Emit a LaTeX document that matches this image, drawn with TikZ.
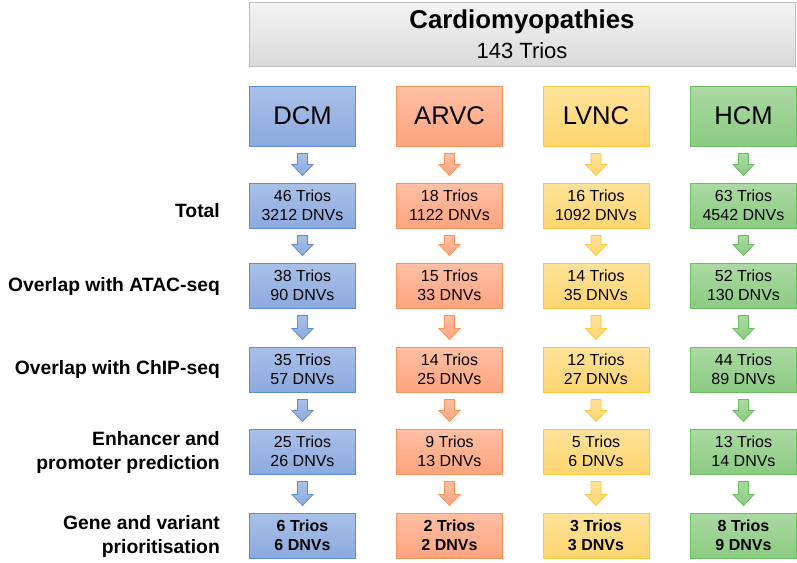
\documentclass[tikz,border=0pt]{standalone}
\usepackage{fontspec}
\setmainfont{Liberation Sans}
\usetikzlibrary{calc}

\definecolor{alltop}{HTML}{F4F4F4}
\definecolor{allbot}{HTML}{DADADA}
\definecolor{allline}{HTML}{BEBEBE}
\definecolor{dcmtop}{HTML}{A9C0E9}
\definecolor{dcmbot}{HTML}{8CAADE}
\definecolor{dcmline}{HTML}{5C8DD8}
\definecolor{arvctop}{HTML}{FFC0A4}
\definecolor{arvcbot}{HTML}{FFA37F}
\definecolor{arvcline}{HTML}{F8955A}
\definecolor{lvnctop}{HTML}{FFE29A}
\definecolor{lvncbot}{HTML}{FFD56F}
\definecolor{lvncline}{HTML}{FFC73A}
\definecolor{hcmtop}{HTML}{ABDAA3}
\definecolor{hcmbot}{HTML}{8BCB81}
\definecolor{hcmline}{HTML}{6CBE62}

\tikzset{
  box/.style={draw, line width=1pt, minimum width=106pt, minimum height=45pt,
    inner sep=0pt, align=center, font=\fontsize{16}{19.5}\selectfont},
  bold/.style={font=\fontsize{16}{19.5}\selectfont\bfseries},
  head/.style={minimum height=60pt, font=\fontsize{25.6}{30}\selectfont},
  dcm box/.style={box, draw=dcmline, top color=dcmtop, bottom color=dcmbot},
  arvc box/.style={box, draw=arvcline, top color=arvctop, bottom color=arvcbot},
  lvnc box/.style={box, draw=lvncline, top color=lvnctop, bottom color=lvncbot},
  hcm box/.style={box, draw=hcmline, top color=hcmtop, bottom color=hcmbot},
  dcm arrow/.style={draw=dcmline, line width=0.8pt, top color=dcmtop, bottom color=dcmbot},
  arvc arrow/.style={draw=arvcline, line width=0.8pt, top color=arvctop, bottom color=arvcbot},
  lvnc arrow/.style={draw=lvncline, line width=0.8pt, top color=lvnctop, bottom color=lvncbot},
  hcm arrow/.style={draw=hcmline, line width=0.8pt, top color=hcmtop, bottom color=hcmbot},
  steplabel/.style={anchor=east, align=right, inner sep=0pt,
    font=\fontsize{19.3}{24}\selectfont\bfseries},
}

% block arrow between two boxes of one column
\newcommand{\flowarrow}[3]{%
  \path[#3] let \p1=(#1.south), \p2=(#2.north) in
    (\x1-5pt,\y1-7pt) -- (\x1+5pt,\y1-7pt) -- (\x1+5pt,\y2+18pt) -- (\x1+10.5pt,\y2+18pt)
    -- (\x1,\y2+7pt) -- (\x1-10.5pt,\y2+18pt) -- (\x1-5pt,\y2+18pt) -- cycle;}

\begin{document}
\begin{tikzpicture}[x=1pt,y=-1pt]
\useasboundingbox (0,0) rectangle (797,562);

\node[draw=allline, line width=1pt, top color=alltop, bottom color=allbot,
  minimum width=546pt, minimum height=64pt, inner sep=0pt, align=center,
  font=\fontsize{22}{30}\selectfont] (all) at (522,34)
  {{\fontsize{25.8}{30}\selectfont\bfseries Cardiomyopathies}\\143 Trios};

% row labels
\node[steplabel] (total) at (220,211) {Total};
\node[steplabel] (atac) at (220,287) {Overlap with ATAC-seq};
\node[steplabel] (chip) at (220,370) {Overlap with ChIP-seq};
\node[steplabel] (enh) at (220,453) {Enhancer and\\promoter prediction};
\node[steplabel] (prio) at (220,537) {Gene and variant\\prioritisation};

% DCM
\node[dcm box, head] (dcm) at (302.5,116) {DCM};
\node[dcm box] (dcm1) at (302.5,205.5) {46 Trios\\3212 DNVs};
\node[dcm box] (dcm2) at (302.5,285.5) {38 Trios\\90 DNVs};
\node[dcm box] (dcm3) at (302.5,369.5) {35 Trios\\57 DNVs};
\node[dcm box] (dcm4) at (302.5,451.5) {25 Trios\\26 DNVs};
\node[dcm box, bold] (dcm5) at (302.5,535.5) {6 Trios\\6 DNVs};

% ARVC
\node[arvc box, head] (arvc) at (449.5,116) {ARVC};
\node[arvc box] (arvc1) at (449.5,205.5) {18 Trios\\1122 DNVs};
\node[arvc box] (arvc2) at (449.5,285.5) {15 Trios\\33 DNVs};
\node[arvc box] (arvc3) at (449.5,369.5) {14 Trios\\25 DNVs};
\node[arvc box] (arvc4) at (449.5,451.5) {9 Trios\\13 DNVs};
\node[arvc box, bold] (arvc5) at (449.5,535.5) {2 Trios\\2 DNVs};

% LVNC
\node[lvnc box, head] (lvnc) at (596,116) {LVNC};
\node[lvnc box] (lvnc1) at (596,205.5) {16 Trios\\1092 DNVs};
\node[lvnc box] (lvnc2) at (596,285.5) {14 Trios\\35 DNVs};
\node[lvnc box] (lvnc3) at (596,369.5) {12 Trios\\27 DNVs};
\node[lvnc box] (lvnc4) at (596,451.5) {5 Trios\\6 DNVs};
\node[lvnc box, bold] (lvnc5) at (596,535.5) {3 Trios\\3 DNVs};

% HCM
\node[hcm box, head] (hcm) at (743.5,116) {HCM};
\node[hcm box] (hcm1) at (743.5,205.5) {63 Trios\\4542 DNVs};
\node[hcm box] (hcm2) at (743.5,285.5) {52 Trios\\130 DNVs};
\node[hcm box] (hcm3) at (743.5,369.5) {44 Trios\\89 DNVs};
\node[hcm box] (hcm4) at (743.5,451.5) {13 Trios\\14 DNVs};
\node[hcm box, bold] (hcm5) at (743.5,535.5) {8 Trios\\9 DNVs};

% arrows
\foreach \c in {dcm,arvc,lvnc,hcm}{
  \flowarrow{\c}{\c1}{\c\space arrow}
  \foreach \i/\j in {1/2,2/3,3/4,4/5}
    \flowarrow{\c\i}{\c\j}{\c\space arrow};
}
\end{tikzpicture}
\end{document}
